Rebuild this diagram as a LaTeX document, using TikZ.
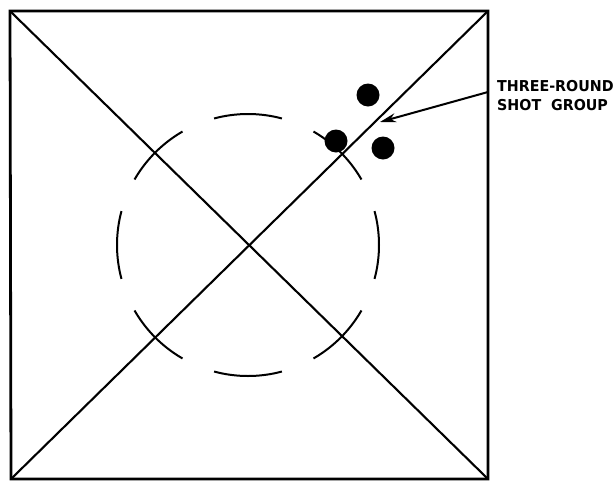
\documentclass[tikz,border=0pt]{standalone}
\usepackage{fontspec}
\newfontfamily\lblfont{DejaVu Sans}
\usetikzlibrary{arrows.meta,calc}
\begin{document}
\begin{tikzpicture}[x=1pt,y=-1pt,
  frame/.style={line width=2.8pt},
  diag/.style={line width=2.1pt},
  ring/.style={line width=2pt},
  shot/.style={circle,fill=black,inner sep=0pt,minimum size=23pt},
  lbl/.style={font=\lblfont\bfseries\fontsize{15}{19}\selectfont,align=left,inner sep=0pt,anchor=west}]
\useasboundingbox (0,0) rectangle (613,480);
\coordinate (tl) at (10,11);
\coordinate (tr) at (488,11);
\coordinate (br) at (488,479);
\coordinate (bl) at (11,479);
\coordinate (c) at (248,245);
\draw[frame] (tl) -- (tr) -- (br) -- (bl) -- cycle;
\draw[diag] (tl) -- (br);
\draw[diag] (tr) -- (bl);
\foreach \a in {0,45,...,315}
  \draw[ring] ($(c)+(\a-15:131)$) arc[start angle=\a-15, end angle=\a+15, radius=131];
\node[shot] (d1) at (368,95) {};
\node[shot] (d2) at (336,141) {};
\node[shot] (d3) at (383,148) {};
\node[lbl] (t) at (497,96) {\scalebox{0.95}[1]{THREE-ROUND}\\\scalebox{0.95}[1]{SHOT\ \ GROUP}};
\coordinate (as) at (488,92);
\coordinate (ae) at (380,122);
\draw[line width=2pt,-{Stealth[length=16pt,width=9pt]}] (as) -- (ae);
\end{tikzpicture}
\end{document}
